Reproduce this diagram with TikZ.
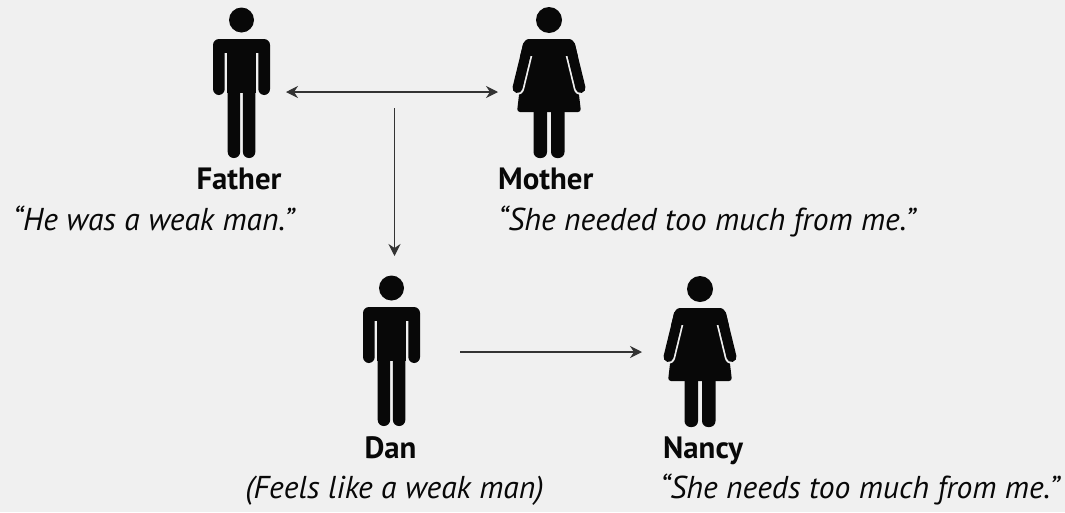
\documentclass[tikz,border=0pt]{standalone}
\usepackage{fontspec}
\setmainfont{PT Sans}
\usetikzlibrary{arrows.meta}
\definecolor{bg}{RGB}{240,240,240}
\definecolor{ink}{RGB}{8,8,8}
\definecolor{arrowc}{RGB}{51,51,51}
\tikzset{
  conn/.style={draw=arrowc, line width=1.3pt, >={Stealth[length=12pt,width=12pt,inset=4pt]}},
  namelbl/.style={inner sep=0pt, font=\fontsize{30.8}{36}\selectfont\bfseries, text=ink},
  quotelbl/.style={inner sep=0pt, font=\fontsize{31.6}{37}\selectfont\itshape, text=ink},
  figbox/.style={inner sep=0pt, minimum width=57pt, minimum height=151pt, anchor=north},
  man/.pic={
    \fill[ink] (0,13) circle (12.5pt);
    \fill[ink, rounded corners=6pt] (-28.5,32) rectangle (-16.8,88);
    \fill[ink, rounded corners=6pt] (16.8,32) rectangle (28.5,88);
    \fill[ink] (-22,32) rectangle (22,46);
    \fill[ink] (-14.3,32) rectangle (14.3,86);
    \fill[ink, rounded corners=6pt] (-13.8,76) rectangle (-1.4,151);
    \fill[ink, rounded corners=6pt] (1.4,76) rectangle (13.8,151);
  },
  woman/.pic={
    \fill[ink] (0,13) circle (13pt);
    \fill[ink, rounded corners=3pt] (-23.5,32) -- (23.5,32) -- (32,105) -- (-32,105) -- cycle;
    \draw[bg, line width=13.5pt, line cap=round] (-21,38) -- (-31.5,81);
    \draw[bg, line width=13.5pt, line cap=round] (21,38) -- (31.5,81);
    \draw[ink, line width=10pt, line cap=round] (-21,38) -- (-31.5,81);
    \draw[ink, line width=10pt, line cap=round] (21,38) -- (31.5,81);
    \begin{scope}
      \clip (-45,20) rectangle (45,48);
      \fill[ink, rounded corners=3pt] (-23.5,32) -- (23.5,32) -- (32,105) -- (-32,105) -- cycle;
      \draw[ink, line width=10pt, line cap=round] (-21,38) -- (-31.5,81);
      \draw[ink, line width=10pt, line cap=round] (21,38) -- (31.5,81);
    \end{scope}
    \fill[ink, rounded corners=6pt] (-15.5,95) rectangle (-2,151);
    \fill[ink, rounded corners=6pt] (2,95) rectangle (15.5,151);
  }
}
\begin{document}
\begin{tikzpicture}[x=1pt, y=-1pt]
  \fill[bg] (0,0) rectangle (1065,512);
  \useasboundingbox (0,0) rectangle (1065,512);

  % figures
  \node[figbox] (father) at (241.5,7) {};
  \pic at (241.5,7) {man};
  \node[figbox] (mother) at (549,7) {};
  \pic at (549,7) {woman};
  \node[figbox] (dan) at (391.5,275) {};
  \pic at (391.5,275) {man};
  \node[figbox] (nancy) at (700,276) {};
  \pic at (700,276) {woman};

  % labels
  \node[namelbl, anchor=base] (fatherlbl) at (239,189) {Father};
  \node[quotelbl, anchor=base] (fatherq) at (153.5,230) {“He was a weak man.”};
  \node[namelbl, anchor=base west] (motherlbl) at (498,189) {Mother};
  \node[quotelbl, anchor=base west] (motherq) at (498,230) {“She needed too much from me.”};
  \node[namelbl, anchor=base] (danlbl) at (390.5,458) {Dan};
  \node[quotelbl, anchor=base] (danq) at (394.5,498) {(Feels like a weak man)};
  \node[namelbl, anchor=base west] (nancylbl) at (663,458) {Nancy};
  \node[quotelbl, anchor=base west] (nancyq) at (660,498) {“She needs too much from me.”};

  % connectors
  \coordinate (pa) at (286,92);
  \coordinate (pb) at (498,92);
  \draw[conn, <->] (pa) -- (pb);
  \coordinate (va) at (394.5,108);
  \coordinate (vb) at (394.5,256);
  \draw[conn, ->] (va) -- (vb);
  \coordinate (da) at (460,352);
  \coordinate (db) at (642,352);
  \draw[conn, ->] (da) -- (db);
\end{tikzpicture}
\end{document}
